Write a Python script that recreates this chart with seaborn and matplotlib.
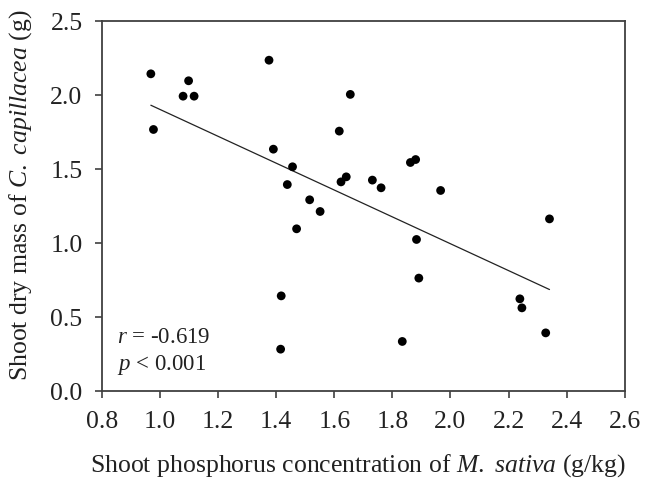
import matplotlib
matplotlib.use("Agg")
import matplotlib.pyplot as plt
import pandas as pd
import numpy as np
import seaborn as sns

# shoot P concentration of M. sativa (g/kg)
phosphorus = [0.968, 0.977, 1.098, 1.079, 1.117, 1.375, 1.655, 1.617, 1.390, 1.456,
              1.438, 1.623, 1.641, 1.731, 1.761, 1.515, 1.551, 1.470, 1.862, 1.880,
              1.966, 2.341, 1.883, 1.891, 2.239, 2.246, 2.328, 1.834, 1.417, 1.415]
# shoot dry mass of C. capillacea (g)
dry_mass = [2.144, 1.768, 2.097, 1.993, 1.993, 2.236, 2.005, 1.757, 1.635, 1.516,
            1.396, 1.414, 1.448, 1.426, 1.374, 1.293, 1.214, 1.097, 1.545, 1.565,
            1.356, 1.164, 1.025, 0.764, 0.624, 0.563, 0.394, 0.336, 0.644, 0.284]

x_ticks = [0.8, 1.0, 1.2, 1.4, 1.6, 1.8, 2.0, 2.2, 2.4, 2.6]
y_ticks = [0.0, 0.5, 1.0, 1.5, 2.0, 2.5]

df = pd.DataFrame({'P': phosphorus, 'mass': dry_mass})

sns.set_style('ticks')
plt.rcParams['font.family'] = ['Liberation Serif', 'DejaVu Serif']
plt.rcParams['mathtext.fontset'] = 'custom'
plt.rcParams['mathtext.it'] = 'Liberation Serif:italic'
plt.rcParams['mathtext.rm'] = 'Liberation Serif'

fig, ax = plt.subplots(figsize=(6.46, 4.8), dpi=100)

# regression line first, then the points on top
sns.regplot(data=df, x='P', y='mass', ax=ax, ci=None, scatter=False,
            line_kws={'color': '#222222', 'lw': 0.9})
sns.scatterplot(data=df, x='P', y='mass', ax=ax, color='black', s=40,
                edgecolor='none', zorder=3)

ax.set_xlim(0.8, 2.6)
ax.set_ylim(0.0, 2.5)
ax.set_xticks(x_ticks)
ax.set_yticks(y_ticks)
ax.set_xticklabels([f'{t:.1f}' for t in x_ticks])
ax.set_yticklabels([f'{t:.1f}' for t in y_ticks])
ax.tick_params(labelsize=18.5, direction='out', length=5, width=1.2,
               color='#404040', labelcolor='#222222')
ax.tick_params(axis='x', pad=9)
ax.tick_params(axis='y', pad=9)
for side in ax.spines.values():
    side.set_color('#404040')
    side.set_linewidth(1.3)

ax.set_xlabel('Shoot phosphorus concentration of $M.$ $sativa$ (g/kg)',
              fontsize=18.5, color='#222222')
ax.set_ylabel('Shoot dry mass of $C.$ $capillacea$ (g)',
              fontsize=18.5, color='#222222')
ax.xaxis.set_label_coords(0.49, -0.165)
ax.yaxis.set_label_coords(-0.13, 0.53)

ax.text(0.852, 0.324, '$r$ = -0.619', fontsize=16.5, color='#222222', va='baseline')
ax.text(0.852, 0.142, '$p$ < 0.001', fontsize=16.5, color='#222222', va='baseline')

fig.subplots_adjust(left=0.158, right=0.967, top=0.956, bottom=0.185)
fig.savefig('out.png', dpi=100)
